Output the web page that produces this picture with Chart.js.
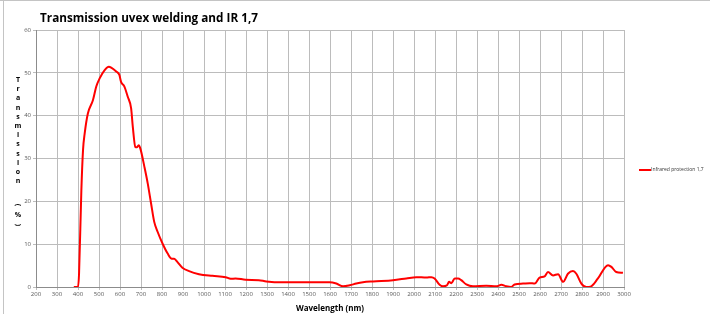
<!DOCTYPE html>
<html>
<head>
<meta charset="utf-8">
<script src="https://cdn.jsdelivr.net/npm/chart.js@4.4.1/dist/chart.umd.min.js"></script>
<style>
  html, body { margin: 0; padding: 0; background: #fff; }
  #wrap { position: relative; width: 710px; height: 314px; overflow: hidden; font-family: "Open Sans", "DejaVu Sans", sans-serif; }
  #frameL { position: absolute; left: 3px; top: 0; width: 1px; height: 314px; background: #c4c4c4; }
  #frameT { position: absolute; left: 0; top: 0; width: 710px; height: 1px; background: #c4c4c4; }
  #title { position: absolute; left: 40px; top: 8px; font-weight: bold; font-size: 13px; color: #000; white-space: nowrap; transform-origin: 0 0; }
  #ytitle { position: absolute; left: 13px; top: 75px; width: 10px; text-align: center; font-weight: bold; font-size: 7px; line-height: 9.2px; color: #000; }
  #ytitle span { display: block; }
  #ytitle .rot { transform: rotate(90deg); height: 10px; }
  #legend { position: absolute; left: 639px; top: 166px; font-size: 5px; color: #333; white-space: nowrap; }
  #legend .ln { display: inline-block; width: 12px; height: 2px; background: #ff0000; vertical-align: middle; }
  canvas { position: absolute; left: 0; top: 0; }
</style>
</head>
<body>
<div id="wrap">
  <canvas id="c" width="710" height="314"></canvas>
  <div id="frameL"></div>
  <div id="frameT"></div>
  <div id="title">Transmission uvex welding and IR 1,7</div>
  <div id="ytitle"></div>
  <div id="legend"><span class="ln"></span><span>Infrared protection 1,7</span></div>
</div>
<script>
const chartTitle = "Transmission uvex welding and IR 1,7";
const yAxisTitle = "Transmission (%)";
const xAxisTitle = "Wavelength (nm)";
const seriesName = "Infrared protection 1,7";

const wavelength = [380, 400, 405, 416, 424, 432, 447, 471, 487, 503, 526, 547, 558, 582, 597, 605, 621, 637, 653, 661, 673, 680, 689, 697, 716, 732, 748, 763, 779, 803, 827, 847, 858, 874, 897, 929, 976, 1040, 1103, 1127, 1150, 1198, 1261, 1297, 1376, 1598, 1630, 1662, 1694, 1725, 1757, 1805, 1900, 1963, 2011, 2059, 2083, 2098, 2122, 2138, 2157, 2167, 2178, 2194, 2210, 2225, 2249, 2281, 2344, 2392, 2416, 2440, 2463, 2479, 2519, 2551, 2575, 2598, 2622, 2638, 2662, 2686, 2710, 2733, 2757, 2773, 2797, 2821, 2844, 2876, 2924, 2940, 2963, 2995];
const transmission = [0, 0, 3.1, 22.6, 32, 35.9, 40.5, 43.6, 46.8, 48.7, 50.6, 51.4, 51.2, 50.3, 49.5, 47.9, 46.8, 44.4, 41.7, 37.4, 32.7, 32.6, 33.1, 32.3, 28.1, 24.2, 19.5, 15.2, 12.9, 10.1, 7.8, 6.6, 6.6, 5.8, 4.5, 3.7, 3.0, 2.6, 2.3, 1.9, 2.0, 1.7, 1.6, 1.3, 1.1, 1.1, 0.8, 0.16, 0.4, 0.8, 1.1, 1.3, 1.6, 2.0, 2.3, 2.2, 2.3, 2.0, 0.5, 0.16, 0.4, 1.2, 0.9, 2.0, 2.0, 1.6, 0.6, 0.16, 0.3, 0.16, 0.5, 0.16, 0, 0.6, 0.8, 0.9, 0.8, 2.2, 2.5, 3.5, 2.7, 3.0, 1.2, 3.1, 3.75, 3.1, 0.8, 0, 0.16, 2.0, 5.1, 4.7, 3.5, 3.3];

const xMin = 200, xMax = 3000, xStep = 100;
const yMin = 0, yMax = 60, yStep = 10;

// HTML text parts
const t = document.getElementById('title');
t.textContent = chartTitle;
const tw = t.getBoundingClientRect().width;
t.style.transform = 'scaleX(' + (218 / tw) + ')';
const yt = document.getElementById('ytitle');
for (const ch of yAxisTitle) {
  const s = document.createElement('span');
  if (ch === ' ') { s.innerHTML = '&nbsp;'; s.style.height = '15px'; }
  else s.textContent = ch;
  if (ch === '(' || ch === ')') s.className = 'rot';
  yt.appendChild(s);
}
document.querySelector('#legend span:last-child').textContent = seriesName;

const points = wavelength.map((w, i) => ({ x: w, y: transmission[i] }));

new Chart(document.getElementById('c'), {
  type: 'line',
  data: {
    datasets: [{
      label: seriesName,
      data: points,
      borderColor: '#ff0000',
      borderWidth: 2,
      pointRadius: 0,
      cubicInterpolationMode: 'monotone',
      fill: false
    }]
  },
  options: {
    responsive: false,
    animation: false,
    layout: { padding: { left: 0, right: 86, top: 30, bottom: 0 } },
    plugins: { legend: { display: false }, tooltip: { enabled: false }, title: { display: false } },
    scales: {
      x: {
        type: 'linear', min: xMin, max: xMax,
        ticks: { stepSize: xStep, font: { size: 6, family: 'Open Sans' }, color: '#595959', padding: 1, maxRotation: 0, autoSkip: false, callback: v => String(v) },
        grid: { color: '#bcbcbc', lineWidth: 1, tickLength: 3 },
        border: { color: '#8c8c8c' },
        title: { display: true, text: xAxisTitle, font: { size: 8, weight: 'bold', family: 'Open Sans' }, color: '#000', padding: { top: 1, bottom: 0 } },
        afterFit: s => { s.height = 27; }
      },
      y: {
        type: 'linear', min: yMin, max: yMax,
        ticks: { stepSize: yStep, font: { size: 6, family: 'Open Sans' }, color: '#595959', padding: 2, callback: v => String(v) },
        grid: { color: '#bcbcbc', lineWidth: 1, tickLength: 3 },
        border: { color: '#8c8c8c' },
        afterFit: s => { s.width = 36; }
      }
    }
  }
});
</script>
</body>
</html>
